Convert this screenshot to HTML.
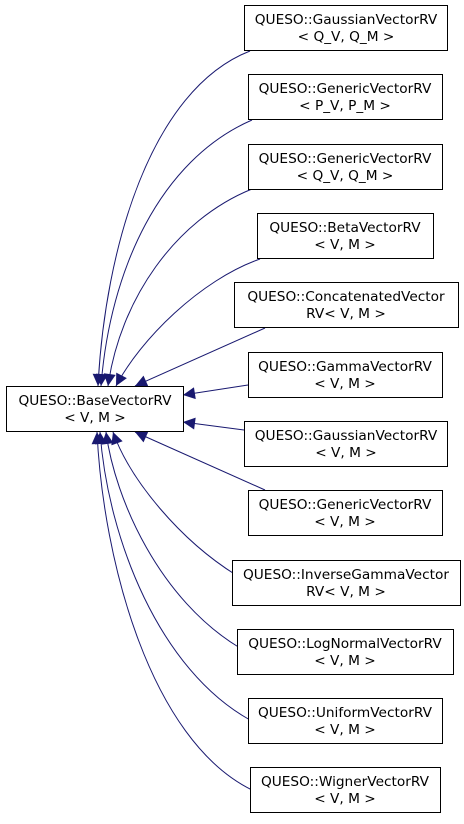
<!DOCTYPE html>
<html><head><meta charset="utf-8"><style>
body{margin:0;background:#fff;}
svg text{font-family:"DejaVu Sans","Liberation Sans",sans-serif;font-size:13.7px;fill:#000;}
</style></head><body>
<svg width="464" height="819" viewBox="0 0 464 819" xmlns="http://www.w3.org/2000/svg">
<defs>
<marker id="a" viewBox="0 0 10 10" refX="10" refY="5" markerWidth="14" markerHeight="12" markerUnits="userSpaceOnUse" orient="auto">
<path d="M0,0 L10,5 L0,10 z" fill="#191970"/>
</marker>
</defs>
<g fill="none" stroke="#191970" stroke-width="1" marker-end="url(#a)">
<path d="M250,51 C150,90 105,250 98,386"/>
<path d="M252,120 C160,160 110,270 101,386"/>
<path d="M252,189 C175,220 120,300 108,386"/>
<path d="M260,259 C200,280 140,340 116,386"/>
<path d="M265,328 L135,386"/>
<path d="M248,385 L183,395"/>
<path d="M244,430 L183,422"/>
<path d="M265,490 L135,432"/>
<path d="M236,575 C180,540 130,480 113,432"/>
<path d="M240,648 C160,600 115,500 106,432"/>
<path d="M250,720 C160,670 108,540 100,432"/>
<path d="M252,790 C150,740 103,560 97,432"/>
</g>
<g fill="#fff" stroke="#000" stroke-width="1">
<rect x="6.5" y="386.5" width="177" height="45"/>
<rect x="244.5" y="5.5" width="203" height="45"/>
<rect x="248.5" y="74.5" width="194" height="45"/>
<rect x="248.5" y="144.5" width="194" height="45"/>
<rect x="257.5" y="213.5" width="176" height="45"/>
<rect x="234.5" y="282.5" width="224" height="45"/>
<rect x="248.5" y="352.5" width="194" height="45"/>
<rect x="244.5" y="421.5" width="203" height="45"/>
<rect x="248.5" y="490.5" width="194" height="45"/>
<rect x="232.5" y="560.5" width="228" height="45"/>
<rect x="237.5" y="629.5" width="216" height="45"/>
<rect x="248.5" y="698.5" width="194" height="45"/>
<rect x="250.5" y="767.5" width="190" height="45"/>
</g>
<g text-anchor="middle">
<text x="95" y="405">QUESO::BaseVectorRV</text><text x="95" y="422">&lt; V, M &gt;</text>
<text x="346" y="24">QUESO::GaussianVectorRV</text><text x="346" y="41">&lt; Q_V, Q_M &gt;</text>
<text x="345" y="93">QUESO::GenericVectorRV</text><text x="345" y="110">&lt; P_V, P_M &gt;</text>
<text x="345" y="163">QUESO::GenericVectorRV</text><text x="345" y="180">&lt; Q_V, Q_M &gt;</text>
<text x="345" y="232">QUESO::BetaVectorRV</text><text x="345" y="249">&lt; V, M &gt;</text>
<text x="346" y="301">QUESO::ConcatenatedVector</text><text x="346" y="318">RV&lt; V, M &gt;</text>
<text x="345" y="371">QUESO::GammaVectorRV</text><text x="345" y="388">&lt; V, M &gt;</text>
<text x="346" y="440">QUESO::GaussianVectorRV</text><text x="346" y="457">&lt; V, M &gt;</text>
<text x="345" y="509">QUESO::GenericVectorRV</text><text x="345" y="526">&lt; V, M &gt;</text>
<text x="346" y="579">QUESO::InverseGammaVector</text><text x="346" y="596">RV&lt; V, M &gt;</text>
<text x="345" y="648">QUESO::LogNormalVectorRV</text><text x="345" y="665">&lt; V, M &gt;</text>
<text x="345" y="717">QUESO::UniformVectorRV</text><text x="345" y="734">&lt; V, M &gt;</text>
<text x="345" y="786">QUESO::WignerVectorRV</text><text x="345" y="803">&lt; V, M &gt;</text>
</g>
</svg>
</body></html>
